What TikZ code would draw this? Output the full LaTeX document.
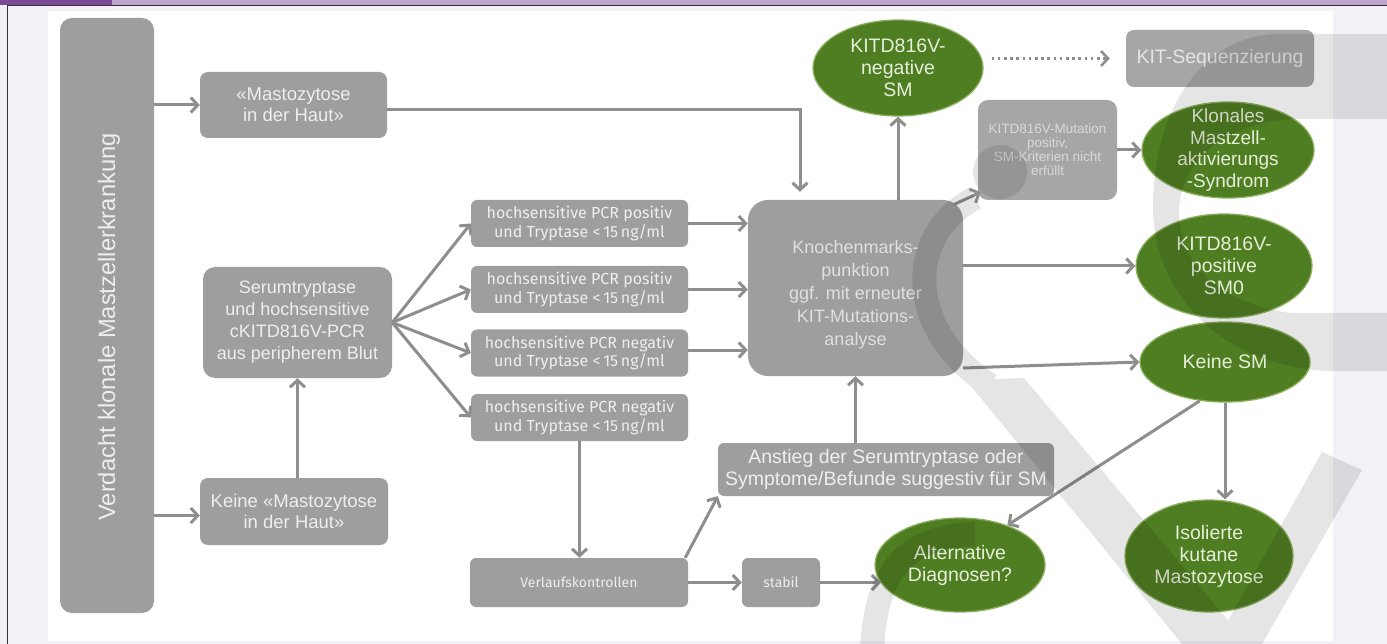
\documentclass[tikz,border=0pt]{standalone}
\usepackage{fontspec}
\setmainfont{Liberation Sans}
\newfontfamily\fira{Fira Sans}
\usetikzlibrary{arrows.meta,shapes.geometric}
\definecolor{boxgrey}{HTML}{9E9E9E}
\definecolor{boxlight}{HTML}{A6A6A6}
\definecolor{linegrey}{HTML}{8E8E8E}
\definecolor{txtgrey}{HTML}{EEEEEE}
\definecolor{smgreen}{HTML}{4E7D22}
\definecolor{smedge}{HTML}{8AAE5C}
\definecolor{smtext}{HTML}{E6EFD9}
\definecolor{purpledark}{HTML}{7B4A97}
\definecolor{purplelight}{HTML}{BBA5CF}
\definecolor{lavender}{HTML}{F3F0F7}
\begin{document}
\begin{tikzpicture}[x=1pt,y=-1pt,
  gbox/.style={draw=none, fill=boxgrey, rounded corners=8pt, text=txtgrey, align=center, inner sep=0pt, font=\fontsize{18.5}{21}\selectfont},
  pcrbox/.style={gbox, rounded corners=6pt, font=\fira\fontsize{16}{18.5}\selectfont, minimum width=217pt, minimum height=47pt},
  smell/.style={ellipse, fill=smgreen, draw=smedge, line width=1.3pt, inner sep=0pt},
  smtxt/.style={text=smtext, align=center, inner sep=0pt, font=\fontsize{19.5}{22}\selectfont},
  conn/.style={draw=linegrey, line width=3pt, -{Straight Barb[length=7pt,width=15pt,line width=3pt]}},
  dotconn/.style={draw=linegrey, line width=2.6pt, dash pattern=on 2.6pt off 3.6pt, -{Straight Barb[length=7pt,width=15pt,line width=2.6pt]}}
]
\clip (0,0) rectangle (1387,644);
% background
\fill[lavender] (0,0) rectangle (1387,644);
\fill[white] (48,11) rectangle (1333,641);
\fill[purplelight] (0,0) rectangle (1387,5);
\fill[purpledark] (0,0) rectangle (112,5);
\draw[black!80, line width=1.3pt] (7.5,644) -- (7.5,5.6) -- (1387,5.6);

% nodes
\node[gbox, rounded corners=12pt, minimum width=94pt, minimum height=595pt] (bar) at (107,315.5) {};
\node[rotate=90, text=txtgrey, inner sep=0pt, font=\fontsize{23.7}{26}\selectfont] (bartxt) at (109,327) {Verdacht klonale Mastzellerkrankung};
\node[gbox, minimum width=187pt, minimum height=66pt] (mast) at (293.5,105) {«Mastozytose\\in der Haut»};
\node[gbox, minimum width=188pt, minimum height=67pt] (keine) at (294,511.5) {Keine «Mastozytose\\in der Haut»};
\node[gbox, rounded corners=12pt, minimum width=189pt, minimum height=111pt, font=\fontsize{18}{22}\selectfont] (serum) at (297.5,322.5) {Serumtryptase\\und hochsensitive\\cKITD816V-PCR\\aus peripherem Blut};
\node[pcrbox] (pcr1) at (579.5,223.5) {hochsensitive PCR positiv\\und Tryptase <\,15\,ng/ml};
\node[pcrbox] (pcr2) at (579.5,289.5) {hochsensitive PCR positiv\\und Tryptase <\,15\,ng/ml};
\node[pcrbox] (pcr3) at (579.5,353) {hochsensitive PCR negativ\\und Tryptase <\,15\,ng/ml};
\node[pcrbox] (pcr4) at (579.5,417.5) {hochsensitive PCR negativ\\und Tryptase <\,15\,ng/ml};
\node[gbox, rounded corners=6pt, minimum width=218pt, minimum height=49pt, font=\fira\fontsize{14}{17}\selectfont] (verl) at (579,582.5) {Verlaufskontrollen};
\node[gbox, rounded corners=6pt, minimum width=78pt, minimum height=49pt, font=\fira\fontsize{14}{17}\selectfont] (stabil) at (781,582.5) {stabil};
\node[gbox, rounded corners=6pt, minimum width=336pt, minimum height=53pt, font=\fontsize{19.5}{22}\selectfont] (anstieg) at (886,469.5) {Anstieg der Serumtryptase oder\\Symptome/Befunde suggestiv für SM};
\node[gbox, rounded corners=20pt, minimum width=215pt, minimum height=176pt,
  label={[text=white!88!black, align=center, inner sep=0pt, font=\fontsize{18}{23}\selectfont, yshift=-7pt]center:Knochenmarks-\\punktion\\ggf. mit erneuter\\KIT-Mutations-\\analyse}] (knochen) at (855.5,288) {};
\node[gbox, fill=boxlight, rounded corners=8pt, minimum width=188pt, minimum height=57pt, font=\fontsize{19.5}{22}\selectfont, text=white!90!black] (seq) at (1220,58.5) {KIT-Sequenzierung};
\node[gbox, fill=boxlight, rounded corners=10pt, minimum width=139pt, minimum height=100pt, font=\fontsize{13.5}{14}\selectfont, text=white!85!black] (mut) at (1047.5,150) {KITD816V-Mutation\\positiv,\\SM-Kriterien nicht\\erfüllt};

\node[smell, minimum width=170pt, minimum height=96pt, label={[smtxt]center:KITD816V-\\negative\\SM}] (neg) at (898,68) {};
\node[smell, minimum width=172pt, minimum height=96pt, label={[smtxt, font=\fontsize{19}{21.5}\selectfont]center:Klonales\\Mastzell-\\aktivierungs\\-Syndrom}] (klon) at (1228,150) {};
\node[smell, minimum width=176pt, minimum height=104pt, label={[smtxt]center:KITD816V-\\positive\\SM0}] (sm0) at (1224,266) {};
\node[smell, minimum width=170pt, minimum height=80pt, label={[smtxt]center:Keine SM}] (keinesm) at (1225,362) {};
\node[smell, minimum width=170pt, minimum height=94pt, label={[smtxt]center:Alternative\\Diagnosen?}] (alt) at (960,565) {};
\node[smell, minimum width=168pt, minimum height=112pt, label={[smtxt]center:Isolierte\\kutane\\Mastozytose}] (iso) at (1209,556) {};

% connectors
\draw[conn] (bar.east |- mast.west) -- (mast.west);
\draw[conn] ([yshift=-4pt]bar.east |- keine.west) -- ([yshift=-4pt]keine.west);
\draw[conn] (keine.north -| serum.south) -- (serum.south);
\draw[conn] (serum.east) -- (pcr1.west);
\draw[conn] (serum.east) -- (pcr2.west);
\draw[conn] (serum.east) -- (pcr3.west);
\draw[conn] (serum.east) -- (pcr4.west);
\draw[conn] (pcr1.east) -- (pcr1.east -| knochen.west);
\draw[conn] (pcr2.east) -- (pcr2.east -| knochen.west);
\draw[conn] ([yshift=3pt]pcr3.east) -- ([yshift=3pt]pcr3.east -| knochen.west);
\coordinate (kntop) at ([xshift=-55.5pt]knochen.north);
\draw[conn] ([yshift=-5pt]mast.east) -| ([yshift=8pt]kntop);
\draw[conn] (pcr4.south) -- (pcr4.south |- verl.north);
\draw[conn] ([xshift=-3pt]verl.north east) -- (anstieg.south west);
\draw[conn] (verl.east) -- (stabil.west);
\draw[conn] (stabil.east) -- (stabil.east -| alt.193);
\draw[conn] (knochen.south |- anstieg.north) -- (knochen.south);
\draw[conn] (knochen.north -| neg.south) -- (neg.south);
\draw[conn] ([xshift=-10pt,yshift=-5pt]knochen.north east) -- ([xshift=3pt,yshift=8pt]mut.south west);
\draw[conn] (mut.east) -- (mut.east -| klon.west);
\draw[conn] (knochen.east |- sm0.west) -- (sm0.west);
\draw[conn] ([yshift=-6pt]knochen.east |- keinesm.west) -- (keinesm.west);
\draw[conn] (keinesm.south) -- (keinesm.south |- iso.north);
\draw[conn] (keinesm.237) -- (alt.40);
\path (neg.east |- seq.west) ++(8,0) coordinate (dotA);
\draw[dotconn, shorten >=16pt] (dotA) -- (seq.west);

% watermark
\begin{scope}[transparency group, opacity=0.1]
\fill[black, even odd rule]
  (1420,34) -- (1275,34) .. controls (1195,38) and (1153,120) .. (1153,206)
  .. controls (1153,300) and (1230,368) .. (1330,371) -- (1420,371) -- cycle
  (1420,119) -- (1290,119) .. controls (1215,125) and (1179,168) .. (1179,212)
  .. controls (1179,262) and (1215,302) .. (1290,313) -- (1420,313) -- cycle;
\fill[black] (1000,172) circle [radius=27];
\draw[black, line width=24pt] (975,198) .. controls (905,235) and (905,330) .. (990,385);
\fill[black] (966,380) -- (1024,378) -- (1248,644) -- (1182,644) -- cycle;
\fill[black] (1322,452) -- (1362,470) -- (1262,644) -- (1215,644) -- cycle;
\draw[black, line width=24pt] (872,650) .. controls (876,570) and (905,537) .. (975,534);
\end{scope}
\end{tikzpicture}
\end{document}
